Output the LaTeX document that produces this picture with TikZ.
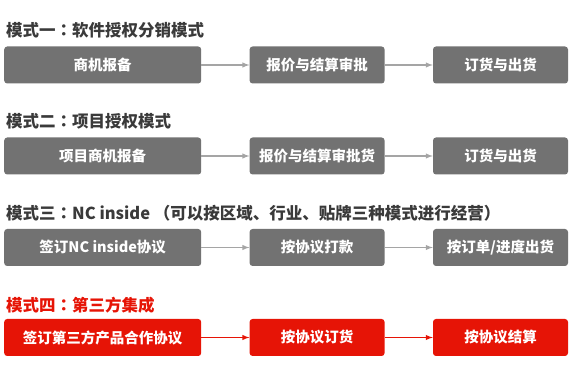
\documentclass[tikz,border=0pt]{standalone}
\usepackage{fontspec}
\newfontfamily\cjk{Noto Sans CJK SC}
\newfontfamily\cjktc{Noto Sans CJK TC}
\usetikzlibrary{arrows,positioning}

\definecolor{boxgray}{RGB}{114,114,114}
\definecolor{boxred}{RGB}{230,20,6}
\definecolor{titlegray}{RGB}{58,58,58}
\definecolor{linegray}{RGB}{165,165,165}

% centred full-width colon
\newcommand{\modecolon}{{\cjktc\bfseries ：}}

\tikzset{
  mode/.style={anchor=west, inner sep=0pt, text=titlegray,
    font=\cjk\bfseries\fontsize{16.5}{16.5}\selectfont},
  stage/.style={rounded corners=3pt, minimum height=37pt, inner sep=0pt,
    text=white, font=\cjk\bfseries\fontsize{14.5}{14.5}\selectfont},
  wide/.style={minimum width=197pt},
  narrow/.style={minimum width=135pt},
  flow/.style={->, >=latex, line width=1.4pt, draw=linegray},
}

\begin{document}
\begin{tikzpicture}[x=1pt, y=-1pt, node distance=48pt]
  \useasboundingbox (0,0) rectangle (574,371);
  % mode 1
  \node[mode] (m1) at (6,30) {模式一\modecolon 软件授权分销模式};
  \node[stage, wide, fill=boxgray, anchor=west] (a1) at (4,65) {商机报备};
  \node[stage, narrow, fill=boxgray] (b1) [right =of a1] {报价与结算审批};
  \node[stage, narrow, fill=boxgray] (c1) [right =of b1] {订货与出货};
  % mode 2
  \node[mode] (m2) at (6,121) {模式二\modecolon 项目授权模式};
  \node[stage, wide, fill=boxgray, anchor=west] (a2) at (4,156) {项目商机报备};
  \node[stage, narrow, fill=boxgray] (b2) [right =of a2] {报价与结算审批货};
  \node[stage, narrow, fill=boxgray] (c2) [right =of b2] {订货与出货};
  % mode 3
  \node[mode] (m3) at (6,213) {模式三\modecolon NC inside （可以按区域、行业、贴牌三种模式进行经营）};
  \node[stage, wide, fill=boxgray, anchor=west] (a3) at (4,247.5) {签订NC inside协议};
  \node[stage, narrow, fill=boxgray] (b3) [right =of a3] {按协议打款};
  \node[stage, narrow, fill=boxgray] (c3) [right =of b3] {按订单/进度出货};
  % mode 4
  \node[mode, text=boxred] (m4) at (6,305) {模式四\modecolon 第三方集成};
  \node[stage, wide, fill=boxred, anchor=west] (a4) at (4,337.5) {签订第三方产品合作协议};
  \node[stage, narrow, fill=boxred] (b4) [right =of a4] {按协议订货};
  \node[stage, narrow, fill=boxred] (c4) [right =of b4] {按协议结算};
  % arrows
  \draw [flow] (a1) -- (b1);
  \draw [flow] (b1) -- (c1);
  \draw [flow] (a2) -- (b2);
  \draw [flow] (b2) -- (c2);
  \draw [flow] (a3) -- (b3);
  \draw [flow] (b3) -- (c3);
  \draw [flow, draw=boxred] (a4) -- (b4);
  \draw [flow, draw=boxred] (b4) -- (c4);
\end{tikzpicture}
\end{document}
